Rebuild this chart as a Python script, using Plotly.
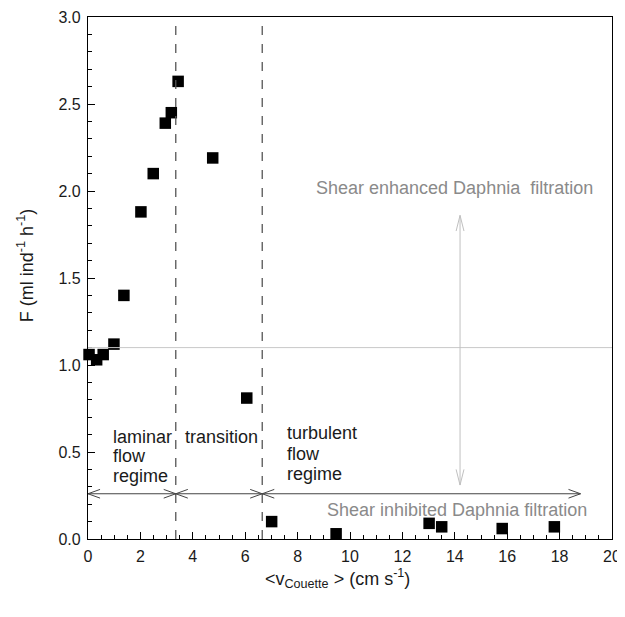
import plotly.graph_objects as go

# Data
v_couette = [0.04, 0.33, 0.58, 0.99, 1.37, 2.02, 2.49, 2.95, 3.18, 3.44, 4.76, 6.06, 7.01, 9.47, 13.02, 13.5, 15.81, 17.8]
filtration = [1.06, 1.03, 1.06, 1.12, 1.40, 1.88, 2.10, 2.39, 2.45, 2.63, 2.19, 0.81, 0.10, 0.03, 0.09, 0.07, 0.06, 0.07]

x_ticks = [0, 2, 4, 6, 8, 10, 12, 14, 16, 18, 20]
y_ticks = [0, 0.5, 1, 1.5, 2, 2.5, 3]
y_ticklabels = ["0.0", "0.5", "1.0", "1.5", "2.0", "2.5", "3.0"]

regime_bounds = [3.35, 6.65]
reference_F = 1.1
turbulent_end = 18.8
arrow_y = 0.26
shear_arrow_x = 14.2
shear_arrow_y = [0.31, 1.86]

laminar_lines = ["laminar", "flow", "regime"]
laminar_y = [0.586, 0.477, 0.362]
turbulent_lines = ["turbulent", "flow", "regime"]
turbulent_y = [0.609, 0.489, 0.374]

FONT = "Liberation Sans, Arial, sans-serif"

fig = go.Figure()
fig.add_trace(go.Scatter(x=v_couette, y=filtration, mode="markers",
                         marker=dict(symbol="square", size=11.5, color="black"),
                         showlegend=False, cliponaxis=False))

shapes = []
for xb in regime_bounds:
    shapes.append(dict(type="line", xref="x", yref="y", x0=xb, x1=xb, y0=0, y1=3,
                       line=dict(color="#555555", width=1.3, dash="dash")))
shapes.append(dict(type="line", xref="x", yref="y", x0=0, x1=20, y0=reference_F, y1=reference_F,
                   line=dict(color="#c8c8c8", width=1)))

hl = 0.46
hw = 0.025
def harrow(x0, x1, y, color="#444444"):
    shapes.append(dict(type="line", xref="x", yref="y", x0=x0, x1=x1, y0=y, y1=y,
                       line=dict(color=color, width=1)))
    path = (f"M {x0+hl},{y+hw} L {x0},{y} L {x0+hl},{y-hw} "
            f"M {x1-hl},{y+hw} L {x1},{y} L {x1-hl},{y-hw}")
    shapes.append(dict(type="path", xref="x", yref="y", path=path,
                       line=dict(color=color, width=1)))

harrow(0, regime_bounds[0], arrow_y)
harrow(regime_bounds[0], regime_bounds[1], arrow_y)
harrow(regime_bounds[1], turbulent_end, arrow_y)

vl = 0.09
vw = 0.15
xa = shear_arrow_x
ya0, ya1 = shear_arrow_y
shapes.append(dict(type="line", xref="x", yref="y", x0=xa, x1=xa, y0=ya0, y1=ya1,
                   line=dict(color="#c0c0c0", width=1)))
shapes.append(dict(type="path", xref="x", yref="y",
                   path=(f"M {xa-vw},{ya1-vl} L {xa},{ya1} L {xa+vw},{ya1-vl} "
                         f"M {xa-vw},{ya0+vl} L {xa},{ya0} L {xa+vw},{ya0+vl}"),
                   line=dict(color="#c0c0c0", width=1)))

TXT = dict(size=18, color="#1a1a1a")
annotations = []
for t, yy in zip(laminar_lines, laminar_y):
    annotations.append(dict(x=0.86, y=yy, xref="x", yref="y", text=t, showarrow=False,
                            xanchor="left", yanchor="middle", font=TXT))
annotations.append(dict(x=3.61, y=0.586, xref="x", yref="y", text="transition", showarrow=False,
                        xanchor="left", yanchor="middle", font=TXT))
for t, yy in zip(turbulent_lines, turbulent_y):
    annotations.append(dict(x=7.52, y=yy, xref="x", yref="y", text=t, showarrow=False,
                            xanchor="left", yanchor="middle", font=TXT))
annotations += [
    dict(x=13.97, y=2.02, xref="x", yref="y", text="Shear enhanced Daphnia  filtration", showarrow=False,
         xanchor="center", yanchor="middle", font=dict(size=18, color="#8a8a8a")),
    dict(x=14.1, y=0.167, xref="x", yref="y", text="Shear inhibited Daphnia filtration", showarrow=False,
         xanchor="center", yanchor="middle", font=dict(size=18, color="#8a8a8a")),
    # axis titles
    dict(x=0.477, y=0, xref="paper", yref="paper", yshift=-39, showarrow=False,
         text="<v<sub>Couette</sub> > (cm s<sup>-1</sup>)", xanchor="center", yanchor="middle",
         font=dict(size=18, color="#1a1a1a")),
    dict(x=-0.118, y=0.523, xref="paper", yref="paper", textangle=-90, showarrow=False,
         text="F (ml ind<sup>-1</sup> h<sup>-1</sup>)", xanchor="center", yanchor="middle",
         font=dict(size=18, color="#1a1a1a")),
]

# page has an 8px body margin, so the figure is sized to fit the window
fig.update_layout(
    width=617, height=609,
    margin=dict(l=80, r=13, t=9, b=78, autoexpand=False),
    paper_bgcolor="white", plot_bgcolor="white",
    font=dict(family=FONT, color="black"),
    shapes=shapes, annotations=annotations,
    xaxis=dict(range=[0, 20], tickvals=x_ticks, automargin=False,
               ticks="inside", ticklen=7, tickcolor="black", ticklabelstandoff=3,
               minor=dict(dtick=0.5, ticks="inside", ticklen=4, tickcolor="black"),
               showline=True, linecolor="black", linewidth=1.3, mirror=True,
               showgrid=False, zeroline=False, tickfont=dict(size=16, color="#1a1a1a")),
    yaxis=dict(range=[0, 3], tickvals=y_ticks, ticktext=y_ticklabels, automargin=False,
               ticks="inside", ticklen=7, tickcolor="black", ticklabelstandoff=3,
               minor=dict(dtick=0.1, ticks="inside", ticklen=4, tickcolor="black"),
               showline=True, linecolor="black", linewidth=1.3, mirror=True,
               showgrid=False, zeroline=False, tickfont=dict(size=16, color="#1a1a1a")),
)

fig.write_html("out.html")
